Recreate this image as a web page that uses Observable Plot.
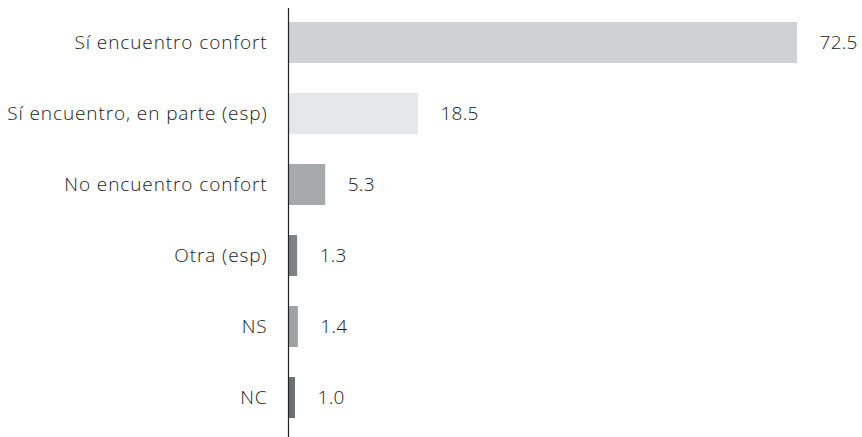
<!DOCTYPE html>
<html><head><meta charset="utf-8">
<script src="https://cdn.jsdelivr.net/npm/d3@7"></script>
<script src="https://cdn.jsdelivr.net/npm/@observablehq/plot@0.6"></script>
<style>body{margin:0;background:#fff;} svg{font-family:"Open Sans",sans-serif;font-weight:300;} .ylab text{letter-spacing:0.9px;} .vlab text{letter-spacing:0.3px;}</style>
</head><body><div id="chart"></div>
<script>
const categories = ["Sí encuentro confort","Sí encuentro, en parte (esp)","No encuentro confort","Otra (esp)","NS","NC"];
const values = [72.5, 18.5, 5.3, 1.3, 1.4, 1.0];
const colors = ["#d0d1d3","#e6e7e8","#a7a8aa","#808184","#a0a1a3","#6d6e71"];
const labels = ["72.5","18.5","5.3","1.3","1.4","1.0"];
const data = categories.map((c,i)=>({cat:c, v:values[i], col:colors[i], lab:labels[i]}));
const chart = Plot.plot({
  width: 862, height: 437,
  marginLeft: 288, marginRight: 65, marginTop: 8, marginBottom: 0,
  style: {fontSize: "19px", fontFamily: "'Open Sans', sans-serif", fontWeight: 300, color: "#1a1a1a"},
  x: {domain: [0, 72.5], axis: null},
  y: {domain: categories, paddingInner: 0.425, paddingOuter: 0.225, align: 0.42, axis: null},
  marks: [
    Plot.axisY({tickSize: 0, tickPadding: 21, label: null, fontSize: 19, fill: "#1a1a1a", className: "ylab"}),
    Plot.barX(data, {x: "v", y: "cat", fill: "col"}),
    Plot.text(data, {x: "v", y: "cat", text: "lab", dx: 22, textAnchor: "start", fill: "#1a1a1a", fontSize: 19, className: "vlab"}),
    Plot.ruleX([0], {stroke: "#222", strokeWidth: 1.2})
  ]
});
document.getElementById("chart").append(chart);
</script></body></html>
